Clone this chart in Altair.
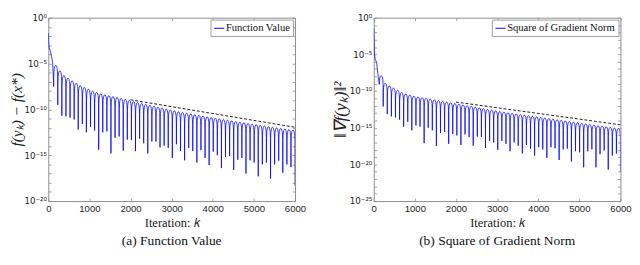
import altair as alt
import pandas as pd

# ---------------- data ----------------
# iteration at which each of the 60 oscillation dips occurs
DIP_K = [130, 230, 329, 429, 528, 628, 727, 827, 926, 1026, 1125, 1225, 1324, 1424, 1523,
         1623, 1722, 1822, 1921, 2021, 2120, 2220, 2319, 2419, 2518, 2618, 2717, 2817, 2916, 3016,
         3115, 3215, 3314, 3414, 3513, 3613, 3712, 3812, 3911, 4011, 4110, 4210, 4309, 4409, 4508,
         4608, 4707, 4807, 4906, 5006, 5105, 5205, 5304, 5404, 5503, 5603, 5702, 5802, 5901, 6000]

# (a) function value: log10 of the curve
A_HEAD_K = [0, 15, 54, 77, 108]
A_HEAD_E = [-1.68, -3.2, -3.7, -4.2, -5.04]
A_DIP_E = [-7.5, -9.5, -10.7, -10.75, -10.9, -11.1, -12.2, -11.6, -12.5, -11.9,
           -12.3, -14.4, -12.5, -12.4, -14.8, -13.1, -12.95, -14.5, -13.3, -13.35,
           -14.55, -13.2, -13.7, -14.8, -13.5, -13.5, -14.15, -13.95, -14.2, -15.3,
           -13.8, -14.55, -15.55, -14.2, -14.55, -15.8, -14.45, -15.3, -16.07, -14.6,
           -15.0, -16.4, -15.2, -15.1, -16.6, -15.5, -15.3, -17.0, -15.55, -15.8,
           -17.3, -16.0, -15.8, -17.55, -16.0, -15.6, -16.9, -16.0, -16.3, -18.3]
A_PEAK_E = [-5.2, -5.8, -6.3, -6.6, -6.9, -7.15, -7.4, -7.6, -7.8, -8.0,
            -8.15, -8.3, -8.4, -8.5, -8.6, -8.7, -8.8, -8.9, -9.0, -9.15,
            -9.25, -9.35, -9.45, -9.55, -9.65, -9.75, -9.85, -9.95, -10.05, -10.15,
            -10.25, -10.33, -10.41, -10.49, -10.57, -10.65, -10.73, -10.81, -10.89, -10.97,
            -11.04, -11.11, -11.18, -11.25, -11.32, -11.39, -11.46, -11.53, -11.6, -11.67,
            -11.74, -11.81, -11.88, -11.95, -12.02, -12.08, -12.14, -12.2, -12.26]
A_DASH_K = [2000, 6000]
A_DASH_E = [-8.95, -11.95]

# (b) square of gradient norm: log10 of the curve
B_HEAD_K = [0, 14, 37, 70, 108]
B_HEAD_E = [-1.45, -4.8, -5.7, -6.1, -8.0]
B_DIP_E = [-8.83, -12.1, -13.15, -13.45, -13.6, -13.9, -14.85, -14.2, -15.35, -14.7,
           -14.85, -17.1, -15.0, -15.35, -17.5, -15.7, -15.55, -17.2, -15.85, -16.05,
           -17.35, -15.9, -16.25, -17.45, -16.2, -16.25, -17.75, -16.8, -17.0, -18.0,
           -16.8, -17.2, -18.2, -17.0, -17.45, -18.5, -17.35, -17.85, -18.8, -17.65,
           -17.95, -19.1, -17.65, -17.8, -19.4, -17.95, -17.85, -19.6, -18.2, -18.35,
           -20.4, -18.2, -17.95, -20.4, -18.6, -18.1, -20.7, -18.8, -18.5, -21.0]
B_PEAK_E = [-7.9, -8.95, -9.3, -9.6, -9.9, -10.2, -10.4, -10.55, -10.7, -10.8,
            -10.9, -11.0, -11.1, -11.2, -11.3, -11.4, -11.5, -11.6, -11.7, -11.8,
            -11.9, -12.0, -12.1, -12.2, -12.3, -12.4, -12.5, -12.6, -12.7, -12.8,
            -12.88, -12.96, -13.04, -13.12, -13.2, -13.28, -13.36, -13.44, -13.52, -13.6,
            -13.68, -13.76, -13.84, -13.92, -14.0, -14.08, -14.16, -14.24, -14.32, -14.4,
            -14.48, -14.56, -14.64, -14.72, -14.8, -14.88, -14.96, -15.04, -15.12]
B_DASH_K = [2000, 6000]
B_DASH_E = [-11.5, -14.6]

# shape of one arch between two dips (fraction of period, offset below the arch top in decades)
ARCH_T = [0.03, 0.08, 0.15, 0.25, 0.38, 0.5, 0.62, 0.75, 0.85, 0.92, 0.97]
ARCH_OFF = [-1.2, -0.6, -0.35, -0.15, -0.03, 0.0, -0.03, -0.15, -0.35, -0.6, -1.2]

X_TICKS = [0, 1000, 2000, 3000, 4000, 5000, 6000]
A_Y_TICK_EXP = [0, -5, -10, -15, -20]
A_Y_TICK_LABELS = ["10⁰", "10⁻⁵", "10⁻¹⁰", "10⁻¹⁵", "10⁻²⁰"]
B_Y_TICK_EXP = [0, -5, -10, -15, -20, -25]
B_Y_TICK_LABELS = ["10⁰", "10⁻⁵", "10⁻¹⁰", "10⁻¹⁵", "10⁻²⁰", "10⁻²⁵"]

SERIF = "Liberation Serif"
SANS = "Liberation Sans"
FRAME = "#8a8a8a"
W, H = 257, 191


def curve_table(head_k, head_e, dip_e, peak_e, label):
    ks, es = list(head_k), list(head_e)
    for n, kd in enumerate(DIP_K):
        ks.append(kd)
        es.append(dip_e[n])
        if n < len(DIP_K) - 1:
            span = DIP_K[n + 1] - kd
            for t, off in zip(ARCH_T, ARCH_OFF):
                ks.append(kd + t * span)
                es.append(peak_e[n] + off)
    return pd.DataFrame({"k": ks, "v": [10.0 ** e for e in es], "series": label})


def label_expr(exps, labels):
    expr = "''"
    for e, s in zip(exps[::-1], labels[::-1]):
        expr = f"round(log(datum.value)/LN10) == {e} ? '{s}' : " + expr
    return expr


def inner_axis(orient, values):
    # small inward-pointing tick marks, MATLAB style
    return alt.Axis(orient=orient, values=values, labels=False, title=None, domain=False,
                    grid=False, ticks=True, tickSize=3, offset=-3, tickColor=FRAME,
                    tickWidth=0.8)


def panel(head_k, head_e, dip_e, peak_e, dash_k, dash_e, tick_exp, tick_labels,
          ytitle, ytitle_size, name, caption):
    df = curve_table(head_k, head_e, dip_e, peak_e, name)
    dash = pd.DataFrame({"k": dash_k, "v": [10.0 ** e for e in dash_e]})
    ymin = 10.0 ** tick_exp[-1]
    decades = [10.0 ** e for e in range(tick_exp[-1], 1)]
    xsc = alt.Scale(domain=[0, 6000], nice=False)
    ysc = alt.Scale(type="log", domain=[ymin, 1], nice=False)
    xax = alt.Axis(values=X_TICKS, format="d", title="Iteration: 𝑘", labelFont=SANS,
                   labelFontSize=10, labelColor="#262626", titleFont=SERIF,
                   titleFontSize=13, titleFontWeight="normal", titleColor="#222",
                   labelPadding=3, titlePadding=3, tickSize=0, domain=False, grid=False,
                   labelFlush=False)
    yax = alt.Axis(values=[10.0 ** e for e in tick_exp],
                   labelExpr=label_expr(tick_exp, tick_labels),
                   title=ytitle, labelFont="DejaVu Sans", labelFontSize=9,
                   labelColor="#262626", titleFont=SERIF, titleFontSize=ytitle_size,
                   titleFontWeight="normal", titleFontStyle="italic", titleColor="#222",
                   labelPadding=2, titlePadding=0, tickSize=0, domain=False, grid=False)
    line = alt.Chart(df).mark_line(strokeWidth=0.8, clip=True).encode(
        x=alt.X("k:Q", scale=xsc, axis=xax),
        y=alt.Y("v:Q", scale=ysc, axis=yax),
        order="k:Q",
        color=alt.Color("series:N",
                        scale=alt.Scale(domain=[name], range=["#0000ff"]),
                        legend=alt.Legend(title=None, orient="top-right", offset=2,
                                          padding=3, strokeColor="#9a9a9a",
                                          fillColor="white", symbolType="stroke",
                                          symbolSize=110, symbolStrokeWidth=1,
                                          labelFont=SERIF, labelFontSize=11,
                                          labelColor="#111", labelOffset=1,
                                          labelLimit=300)),
    )
    dashed = alt.Chart(dash).mark_line(color="black", strokeWidth=0.9,
                                       strokeDash=[3, 2]).encode(
        x=alt.X("k:Q", scale=xsc, axis=inner_axis("top", X_TICKS)),
        y=alt.Y("v:Q", scale=ysc, axis=inner_axis("right", decades)))
    ticks_bl = alt.Chart(dash).mark_point(opacity=0).encode(
        x=alt.X("k:Q", scale=xsc, axis=inner_axis("bottom", X_TICKS)),
        y=alt.Y("v:Q", scale=ysc, axis=inner_axis("left", decades)))
    return alt.layer(line, dashed, ticks_bl).resolve_axis(
        x="independent", y="independent").properties(
        width=W, height=H,
        title=alt.TitleParams(caption, orient="bottom", font=SERIF, fontSize=14,
                              fontWeight="normal", color="#111", offset=6))


left = panel(A_HEAD_K, A_HEAD_E, A_DIP_E, A_PEAK_E, A_DASH_K, A_DASH_E,
             A_Y_TICK_EXP, A_Y_TICK_LABELS, "f(yₖ) − f(x*)", 16, "Function Value",
             "(a) Function Value")
right = panel(B_HEAD_K, B_HEAD_E, B_DIP_E, B_PEAK_E, B_DASH_K, B_DASH_E,
              B_Y_TICK_EXP, B_Y_TICK_LABELS, "‖∇f(yₖ)‖²", 18, "Square of Gradient Norm",
              "(b) Square of Gradient Norm")

chart = alt.hconcat(left, right, spacing=26).resolve_scale(color="independent").configure(
    padding=0, background="white"
).configure_view(stroke=FRAME, strokeWidth=1)

chart.save("out.html", embed_options={"renderer": "svg", "actions": False})
